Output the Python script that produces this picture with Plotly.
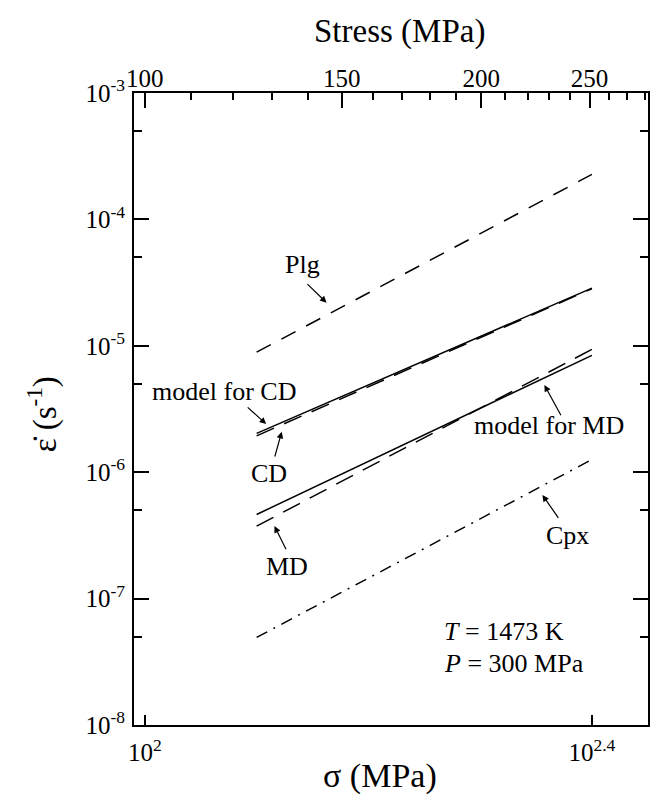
import plotly.graph_objects as go

# ---- data ----
sigma = [125.9, 251.2]                # MPa (line end points)
plg = [8.9e-6, 2.27e-4]
model_cd = [2.03e-6, 2.86e-5]
cd = [1.94e-6, 2.83e-5]
model_md = [4.63e-7, 8.41e-6]
md = [3.74e-7, 9.38e-6]
cpx = [4.93e-8, 1.26e-6]

y_major = [1e-8, 1e-7, 1e-6, 1e-5, 1e-4, 1e-3]
y_major_text = ["10<sup>-8</sup>", "10<sup>-7</sup>", "10<sup>-6</sup>",
                "10<sup>-5</sup>", "10<sup>-4</sup>", "10<sup>-3</sup>"]
y_minor = [5e-8, 5e-7, 5e-6, 5e-5, 5e-4]
x_major = [100, 251.19]
x_major_text = ["10<sup>2</sup>", "10<sup>2.4</sup>"]
top_major = [100, 150, 200, 250]
top_major_text = ["100", "150", "200", "250"]
top_minor = [110, 120, 130, 140, 160, 170, 180, 190, 210, 220, 230, 240, 260, 270, 280]

FONT = "'Liberation Serif', 'Times New Roman', Times, 'DejaVu Serif', serif"
W, H = 652, 799
L, R, T, B = 134, 2, 93, 74
PW, PH = W - L - R, H - T - B

def px(x):
    return (x - L) / PW

def py(y):
    return (H - B - y) / PH

fig = go.Figure()
lw = 1.5
series = [
    (plg, "16px,12px", "Plg"),
    (model_cd, "solid", "model for CD"),
    (cd, "19px,11px", "CD"),
    (model_md, "solid", "model for MD"),
    (md, "19px,11px", "MD"),
    (cpx, "12px,7px,2px,7px", "Cpx"),
]
for vals, dash, name in series:
    fig.add_trace(go.Scatter(x=sigma, y=vals, mode="lines", name=name,
                             line=dict(color="black", width=lw, dash=dash),
                             showlegend=False, xaxis="x", yaxis="y"))
# invisible trace for top axis
fig.add_trace(go.Scatter(x=sigma, y=plg, mode="lines", line=dict(width=0),
                         opacity=0, showlegend=False, hoverinfo="skip",
                         xaxis="x2", yaxis="y"))

xr = [1.9903, 2.4502]
fig.update_layout(
    width=W, height=H,
    margin=dict(l=L, r=R, t=T, b=B, pad=0),
    paper_bgcolor="white", plot_bgcolor="white",
    font=dict(family=FONT, size=25, color="black"),
    xaxis=dict(type="log", range=xr, tickmode="array", tickvals=x_major,
               ticktext=x_major_text, ticks="inside", ticklen=10, tickwidth=1.5,
               tickcolor="black", showline=True, linewidth=2, linecolor="black",
               mirror=True, showgrid=False, zeroline=False, ticklabelstandoff=4,
               tickfont=dict(family=FONT, size=25)),
    xaxis2=dict(type="log", range=xr, overlaying="x", side="top",
                tickmode="array", tickvals=top_major, ticktext=top_major_text,
                ticks="inside", ticklen=15, tickwidth=1.5, tickcolor="black",
                minor=dict(tickmode="array", tickvals=top_minor, ticks="inside",
                           ticklen=7, tickwidth=1.5, tickcolor="black"),
                showline=False, showgrid=False, zeroline=False,
                tickfont=dict(family=FONT, size=25)),
    yaxis=dict(type="log", range=[-8, -3], tickmode="array", tickvals=y_major,
               ticktext=y_major_text, ticks="inside", ticklen=15, tickwidth=1.5,
               tickcolor="black",
               minor=dict(tickmode="array", tickvals=y_minor, ticks="inside",
                          ticklen=8, tickwidth=1.5, tickcolor="black"),
               showline=True, linewidth=2, linecolor="black", mirror="ticks",
               showgrid=False, zeroline=False, ticklabelstandoff=2,
               tickfont=dict(family=FONT, size=25)),
)

ann = []
def text(t, x, y, size=26, xanchor="center", angle=0):
    ann.append(dict(text=t, x=px(x), y=py(y), xref="paper", yref="paper",
                    showarrow=False, xanchor=xanchor, yanchor="middle",
                    textangle=angle, font=dict(family=FONT, size=size, color="black")))

def arrow(tail, tip):
    ann.append(dict(text="", x=px(tip[0]), y=py(tip[1]), xref="paper", yref="paper",
                    ax=tail[0] - tip[0], ay=tail[1] - tip[1], showarrow=True,
                    arrowhead=2, arrowsize=1.1, arrowwidth=1.2, arrowcolor="black",
                    standoff=0, startstandoff=0))

text("Stress (MPa)", 401, 32, size=33)
text("σ (MPa)", 381, 776, size=34)
text("ε̇ (s<sup>-1</sup>)", 42, 414, size=33, angle=-90)

text("Plg", 303, 264)
arrow((306.7, 282.7), (327.3, 302.7))
text("model for CD", 224, 391)
arrow((246.7, 406), (266.7, 424))
text("CD", 270, 473)
arrow((275, 458), (282.3, 431.7))
text("MD", 288, 566)
arrow((287.3, 550.7), (275, 526))
text("model for MD", 551, 426)
arrow((563.3, 416.7), (546, 385))
text("Cpx", 569, 535)
arrow((561, 519.3), (544, 495))
text("<i>T</i> = 1473 K", 443, 631, xanchor="left")
text("<i>P</i> = 300 MPa", 443, 663, xanchor="left")

fig.update_layout(annotations=ann)
fig.write_html("out.html")
